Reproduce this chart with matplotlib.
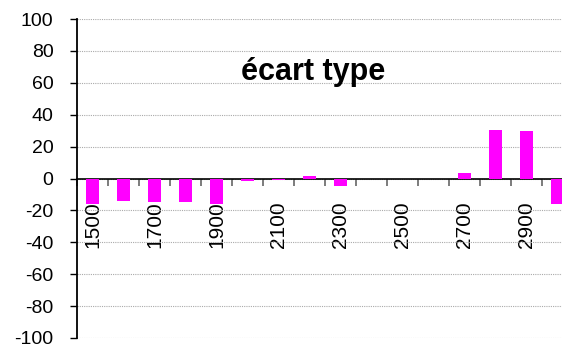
import numpy as np
import matplotlib
matplotlib.use("Agg")
import matplotlib.pyplot as plt

plt.rcParams['font.family'] = ['Liberation Sans', 'DejaVu Sans']
plt.rcParams['axes.unicode_minus'] = False

years = [1500, 1600, 1700, 1800, 1900, 2000, 2100, 2200,
         2300, 2400, 2500, 2600, 2700, 2800, 2900, 3000]
ecart = [-16, -14, -15, -15, -16, -1.5, -1, 1.6,
         -4.6, 0, 0, 0, 3.3, 30.3, 29.6, -15.7]
yticks = [-100, -80, -60, -40, -20, 0, 20, 40, 60, 80, 100]

fig = plt.figure(figsize=(5.62, 3.47), dpi=100)
# axes runs slightly past the right edge, last bar gets cut
ax = fig.add_axes([77 / 562, 9 / 347, 496 / 562, 319 / 347])

x = np.arange(len(years))
ax.bar(x, ecart, width=0.42, color='#ff00ff', zorder=3)

ax.set_xlim(-0.5, len(years) - 0.5)
ax.set_ylim(-100, 100)
ax.set_yticks(yticks)
ax.yaxis.grid(True, linestyle=(0, (1, 1)), color='#aaaaaa', linewidth=0.8)
ax.set_axisbelow(True)

for s in ['top', 'right']:
    ax.spines[s].set_visible(False)
ax.spines['bottom'].set_position(('data', 0))
ax.spines['bottom'].set_linewidth(1.2)
ax.spines['left'].set_linewidth(1.3)
ax.spines['bottom'].set_zorder(2)

# tick marks between categories, labels every other year
ax.set_xticks(np.arange(-0.5, len(years), 1.0))
ax.set_xticklabels([])
ax.tick_params(axis='x', which='major', direction='out', length=5,
               color='#666666', width=1.2)
ax.set_xticks(x[::2], [str(y) for y in years[::2]], minor=True)
ax.tick_params(axis='x', which='minor', length=0, pad=16.5,
               labelsize=15, labelrotation=90)

ax.tick_params(axis='y', direction='out', length=5, width=1,
               labelsize=14, pad=12)

fig.text(0.557, 0.793, 'écart type', fontsize=22, fontweight='bold',
         ha='center', va='center')

fig.savefig('out.png', dpi=100)
